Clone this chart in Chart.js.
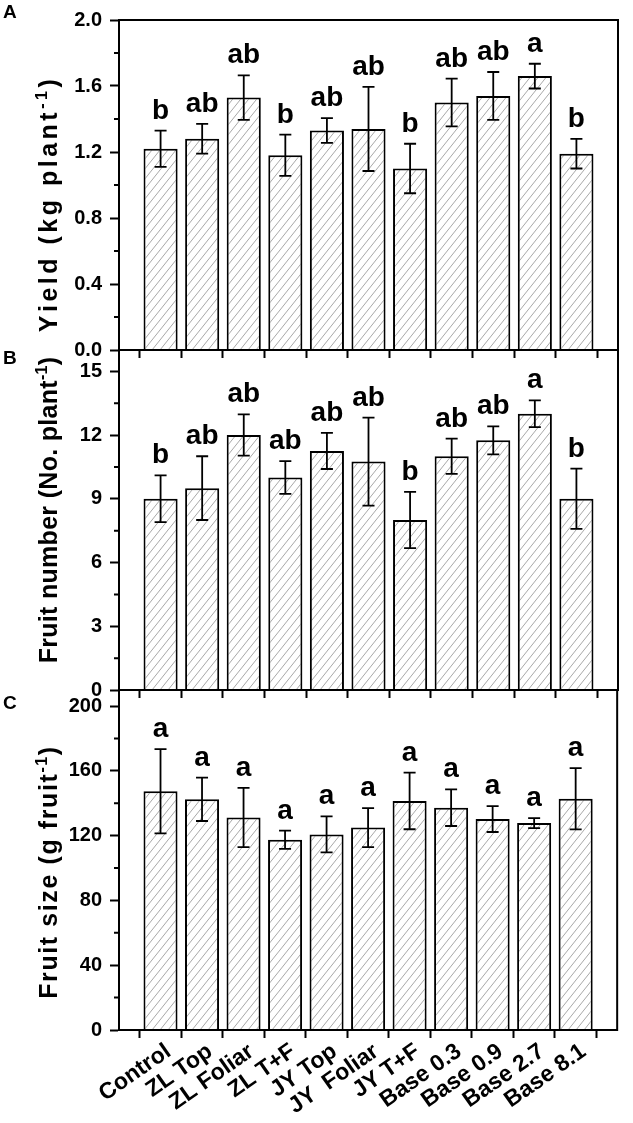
<!DOCTYPE html>
<html><head><meta charset="utf-8">
<script src="https://cdn.jsdelivr.net/npm/chart.js@4"></script>
<style>
html,body{margin:0;padding:0;background:#fff;}
#wrap{position:relative;width:633px;height:1123px;overflow:hidden;}
#wrap canvas{position:absolute;left:0;top:0;}
</style></head><body>
<div id="wrap">
<canvas id="cA" width="633" height="1123"></canvas>
<canvas id="cB" width="633" height="1123"></canvas>
<canvas id="cC" width="633" height="1123"></canvas>
</div>
<script>
// ---- data ----
const categories = ['Control','ZL Top','ZL Foliar','ZL T+F','JY Top','JY  Foliar','JY T+F','Base 0.3','Base 0.9','Base 2.7','Base 8.1'];

const yieldMean = [1.22, 1.28, 1.53, 1.18, 1.33, 1.34, 1.10, 1.50, 1.54, 1.66, 1.19];
const yieldErr  = [0.11, 0.09, 0.135, 0.125, 0.075, 0.255, 0.15, 0.145, 0.145, 0.075, 0.09];
const yieldLetters = ['b','ab','ab','b','ab','ab','b','ab','ab','a','b'];

const fruitMean = [9.0, 9.5, 12.0, 10.0, 11.25, 10.75, 8.0, 11.0, 11.75, 13.0, 9.0];
const fruitErr  = [1.1, 1.5, 0.97, 0.77, 0.85, 2.07, 1.32, 0.83, 0.66, 0.63, 1.42];
const fruitLetters = ['b','ab','ab','ab','ab','ab','b','ab','ab','a','b'];

const sizeMean = [147.5, 142.5, 131.2, 117.5, 120.8, 125.0, 141.5, 137.3, 130.3, 127.8, 142.8];
const sizeErr  = [26, 13.4, 18.3, 5.6, 11.1, 12, 17.5, 11.3, 8, 3.1, 18.9];
const sizeLetters = ['a','a','a','a','a','a','a','a','a','a','a'];

const yieldTicks = [0, 0.4, 0.8, 1.2, 1.6, 2.0];
const fruitTicks = [0, 3, 6, 9, 12, 15];
const sizeTicks  = [0, 40, 80, 120, 160, 200];

const yieldTitle = ['Yield (kg plant', '-1', ')'];
const fruitTitle = ['Fruit number (No. plant', '-1', ')'];
const sizeTitle  = ['Fruit size (g fruit', '-1', ')'];

// ---- styling ----
const FONT = "'Liberation Sans', Arial, sans-serif";
const W = 633, H = 1123;
const LEFT = 119, RIGHT = 618;

function makeHatch(){
  const c = document.createElement('canvas');
  c.width = 8; c.height = 10;
  const g = c.getContext('2d');
  g.fillStyle = '#fff'; g.fillRect(0,0,8,10);
  g.strokeStyle = '#a8a8a8'; g.lineWidth = 1;
  g.beginPath();
  for (const s of [-8,0,8]) { g.moveTo(s-1, 11.25); g.lineTo(s+9, -1.25); }
  g.stroke();
  return g.createPattern(c, 'repeat');
}
const hatch = makeHatch();

function drawSpaced(ctx, text, x, y, sp){
  for (const ch of text) { ctx.fillText(ch, x, y); x += ctx.measureText(ch).width + sp; }
  return x;
}
function spacedWidth(ctx, text, sp){
  let w = 0; for (const ch of text) w += ctx.measureText(ch).width + sp; return w;
}

function panelPlugin(cfg){
  const {means, errs, letters} = cfg;
  return {
    id: 'panel' + cfg.panel,
    afterDatasetsDraw(chart){
      const ctx = chart.ctx, xs = chart.scales.x, ys = chart.scales.y;
      ctx.save();
      ctx.strokeStyle = '#000'; ctx.lineWidth = 1.8;
      ctx.fillStyle = '#000';
      ctx.font = 'bold 28px ' + FONT;
      ctx.textAlign = 'center'; ctx.textBaseline = 'alphabetic';
      means.forEach((m, i) => {
        const x = xs.getPixelForValue(i);
        const yt = ys.getPixelForValue(m + errs[i]);
        const yb = ys.getPixelForValue(m - errs[i]);
        ctx.beginPath();
        ctx.moveTo(x, yt); ctx.lineTo(x, yb);
        ctx.moveTo(x-6, yt); ctx.lineTo(x+6, yt);
        ctx.moveTo(x-6, yb); ctx.lineTo(x+6, yb);
        ctx.stroke();
        ctx.fillText(letters[i], x, yt - 12);
      });
      ctx.restore();
    },
    afterDraw(chart){
      const ctx = chart.ctx, a = chart.chartArea, ys = chart.scales.y;
      ctx.save();
      ctx.strokeStyle = '#000'; ctx.lineWidth = 2;
      ctx.strokeRect(a.left, a.top, a.right - a.left, a.bottom - a.top);
      // minor ticks
      const t = ys.ticks.map(k => k.value);
      ctx.beginPath();
      for (let i = 0; i < t.length - 1; i++) {
        const y = ys.getPixelForValue((t[i] + t[i+1]) / 2);
        ctx.moveTo(a.left - 5, y); ctx.lineTo(a.left, y);
      }
      ctx.stroke();
      // panel letter
      ctx.fillStyle = '#000';
      ctx.font = 'bold 19px ' + FONT;
      ctx.textAlign = 'left'; ctx.textBaseline = 'alphabetic';
      ctx.fillText(cfg.panel, 3, cfg.letterY);
      // axis title (rotated, with superscript)
      const [main, sup, tail] = cfg.title, sp = cfg.titleSpacing;
      const mainFont = 'bold 25px ' + FONT, supFont = 'bold 16px ' + FONT;
      ctx.font = mainFont;
      let w = spacedWidth(ctx, main, sp) + spacedWidth(ctx, tail, sp);
      ctx.font = supFont;
      w += spacedWidth(ctx, sup, sp);
      ctx.translate(57, cfg.titleCenter);
      ctx.rotate(-Math.PI / 2);
      let x = -w / 2;
      ctx.font = mainFont; x = drawSpaced(ctx, main, x, 0, sp);
      ctx.font = supFont;  x = drawSpaced(ctx, sup, x, -10, sp);
      ctx.font = mainFont; drawSpaced(ctx, tail, x, 0, sp);
      ctx.restore();
    }
  };
}

function makeChart(id, cfg){
  const showX = cfg.showX;
  return new Chart(document.getElementById(id), {
    type: 'bar',
    data: {
      datasets: [{
        data: cfg.means.map((v, i) => ({x: i, y: v})),
        backgroundColor: hatch,
        borderColor: '#000',
        borderWidth: 2,
        barPercentage: 1,
        categoryPercentage: 0.82
      }]
    },
    options: {
      responsive: false,
      animation: false,
      events: [],
      layout: { padding: { left: 0, right: W - RIGHT, top: cfg.top, bottom: showX ? 0 : H - cfg.bottom } },
      plugins: { legend: { display: false }, tooltip: { enabled: false } },
      scales: {
        x: {
          type: 'linear', min: -1, max: 11, offset: false,
          afterBuildTicks: s => { s.ticks = [-1, ...categories.map((c, i) => i), categories.length].map(v => ({value: v})); },
          afterFit: s => { s.height = showX ? H - cfg.bottom : 0; },
          ticks: {
            display: showX, autoSkip: false, minRotation: 35, maxRotation: 35, padding: 0, labelOffset: 8,
            color: '#000', font: { family: FONT, weight: 'bold', size: 23 },
            callback: v => categories[v] ?? ''
          },
          grid: { drawOnChartArea: false, drawTicks: true, tickLength: 8, tickWidth: 2, tickColor: '#000' },
          border: { display: true, color: '#000', width: 2 }
        },
        y: {
          min: cfg.min, max: cfg.max,
          afterBuildTicks: s => { s.ticks = cfg.ticks.map(v => ({value: v})); },
          afterFit: s => { s.width = LEFT; },
          ticks: {
            color: '#000', padding: 8,
            font: { family: FONT, weight: 'bold', size: 20 },
            callback: cfg.fmt
          },
          grid: { drawOnChartArea: false, drawTicks: true, tickLength: 9, tickWidth: 2, tickColor: '#000' },
          border: { display: true, color: '#000', width: 2 },
          title: { display: false }
        }
      }
    },
    plugins: [panelPlugin(cfg)]
  });
}

makeChart('cA', { means: yieldMean, errs: yieldErr, letters: yieldLetters, ticks: yieldTicks,
  min: 0, max: 2.0, fmt: v => v.toFixed(1), title: yieldTitle, titleCenter: 204, titleSpacing: 3.5,
  panel: 'A', letterY: 18, top: 11, bottom: 350, showX: false });
makeChart('cB', { means: fruitMean, errs: fruitErr, letters: fruitLetters, ticks: fruitTicks,
  min: 0, max: 16, fmt: v => String(v), title: fruitTitle, titleCenter: 510, titleSpacing: 0.3,
  panel: 'B', letterY: 364, top: 350, bottom: 690, showX: false });
makeChart('cC', { means: sizeMean, errs: sizeErr, letters: sizeLetters, ticks: sizeTicks,
  min: 0, max: 210, fmt: v => String(v), title: sizeTitle, titleCenter: 872, titleSpacing: 1.6,
  panel: 'C', letterY: 709, top: 690, bottom: 1030, showX: true });
</script>
</body></html>
